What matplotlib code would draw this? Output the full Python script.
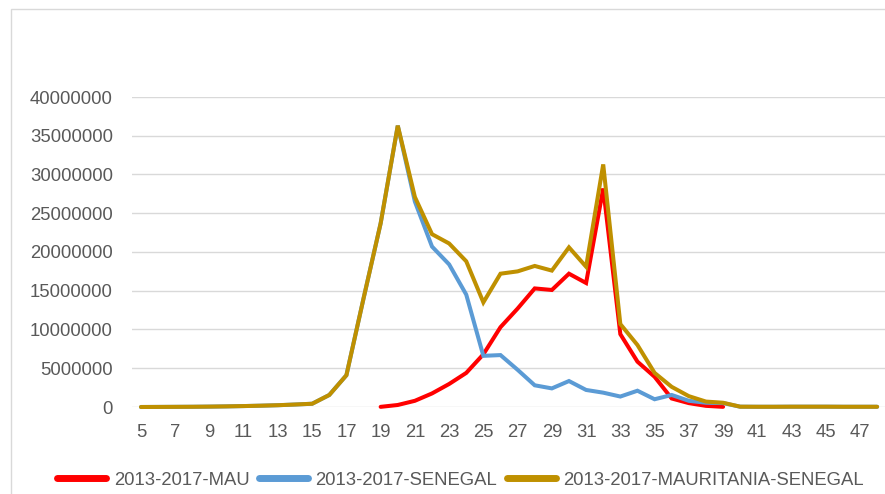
import numpy as np
import matplotlib
matplotlib.use("Agg")
import matplotlib.pyplot as plt
from matplotlib.patches import Rectangle

nan = np.nan

weeks = list(range(5, 49))

mau = [nan, nan, nan, nan, nan, nan, nan, nan, nan, nan,
       nan, nan, nan, nan,
       20000, 260000, 800000, 1750000, 2970000, 4400000,
       6800000, 10300000, 12700000, 15300000, 15100000, 17200000,
       16000000, 28200000, 9400000, 5850000, 3900000, 1100000,
       500000, 150000, 20000,
       nan, nan, nan, nan, nan, nan, nan, nan, nan]

senegal = [0, 10000, 20000, 30000, 50000, 80000, 120000, 170000, 230000, 320000,
           420000, 1550000, 4100000, 14000000, 23700000, 36300000,
           26500000, 20700000, 18400000, 14500000, 6600000, 6700000,
           4800000, 2800000, 2400000, 3350000, 2200000, 1850000,
           1350000, 2100000, 1000000, 1550000, 800000, 550000, 500000,
           40000, 30000, 30000, 40000, 40000, 40000, 30000, 30000, 30000]

total = [0, 10000, 20000, 30000, 50000, 80000, 120000, 170000, 230000, 320000,
         420000, 1550000, 4100000, 14000000, 23700000, 36300000,
         27100000, 22300000, 21100000, 18800000, 13500000, 17200000,
         17500000, 18200000, 17600000, 20600000, 18100000, 31300000,
         10700000, 8000000, 4400000, 2600000, 1400000, 700000, 550000,
         40000, 30000, 30000, 40000, 40000, 40000, 30000, 30000, 30000]

series_names = ["2013-2017-MAU", "2013-2017-SENEGAL", "2013-2017-MAURITANIA-SENEGAL"]
series_colors = ["#FF0000", "#5B9BD5", "#BF9000"]

y_ticks = list(range(0, 40000001, 5000000))
x_labels = [str(w) for w in weeks[::2]]

W, H = 885, 494
fig = plt.figure(figsize=(W / 100, H / 100), dpi=100)
plt.rcParams["font.family"] = ["Liberation Sans", "DejaVu Sans"]

# chart frame
fig.patches.append(Rectangle((11 / W, -0.1), 1.2, 1 - 9 / H + 0.1,
                             transform=fig.transFigure, fill=False,
                             edgecolor="#D9D9D9", linewidth=1.0, zorder=0))

left, right = 132.4 / W, 885.7 / W
bottom, top = 1 - 407 / H, 1 - 97 / H
ax = fig.add_axes([left, bottom, right - left, top - bottom])
ax.set_facecolor("none")

x = np.array(weeks, dtype=float)
for vals, name, col in zip([mau, senegal, total], series_names, series_colors):
    ax.plot(x, np.array(vals, dtype=float), color=col, linewidth=2.9,
            solid_capstyle="round", solid_joinstyle="miter",
            label=name, clip_on=False)

ax.set_xlim(4.5, 48.5)
ax.set_ylim(0, 40000000)
ax.set_yticks(y_ticks)
ax.set_yticklabels([str(v) for v in y_ticks])
ax.set_xticks(weeks[::2])
ax.set_xticklabels(x_labels)
ax.yaxis.grid(True, color="#D9D9D9", linewidth=1.0)
ax.set_axisbelow(True)
for s in ax.spines.values():
    s.set_visible(False)
ax.tick_params(axis="both", length=0, labelsize=13.3, labelcolor="#595959")
ax.tick_params(axis="y", pad=14)
ax.tick_params(axis="x", pad=12)

leg = fig.legend(loc="center", bbox_to_anchor=(460.5 / W, 1 - 480 / H), ncol=3,
                 frameon=False, fontsize=13.3, handlelength=2.65,
                 handletextpad=0.41, columnspacing=0.52, borderpad=0,
                 borderaxespad=0)
for t in leg.get_texts():
    t.set_color("#595959")
for h in leg.legend_handles:
    h.set_linewidth(5)
    h.set_solid_capstyle("round")

fig.savefig("out.png", dpi=100)
